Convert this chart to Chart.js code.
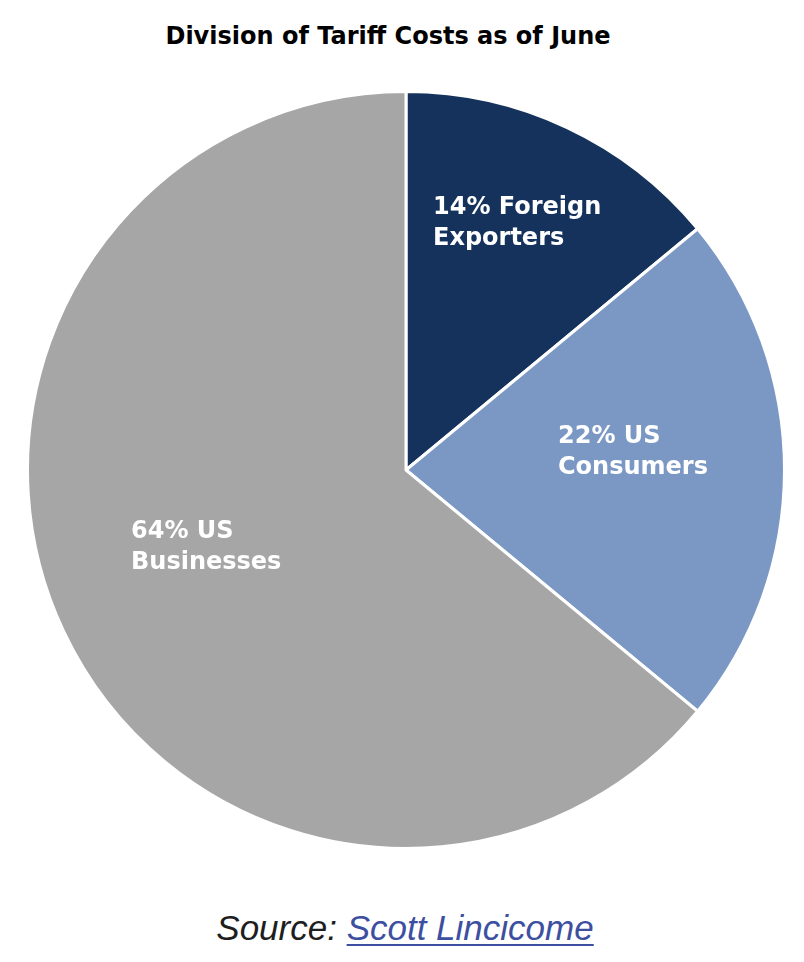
<!DOCTYPE html>
<html>
<head>
<meta charset="utf-8">
<script src="https://cdn.jsdelivr.net/npm/chart.js@4/dist/chart.umd.min.js"></script>
<style>
  html, body { margin: 0; padding: 0; background: #fff; }
  body { width: 804px; height: 962px; position: relative; overflow: hidden; }
  #title {
    position: absolute; left: 0; top: 22px; width: 776px; text-align: center;
    font-family: "DejaVu Sans", sans-serif; font-weight: bold; font-size: 24px; color: #000;
  }
  #wrap { position: absolute; left: 26px; top: 90px; width: 760px; height: 760px; }
  #source {
    position: absolute; left: 0; top: 908px; width: 810px; text-align: center;
    font-family: "Liberation Sans", Arial, sans-serif; font-style: italic; font-size: 35px; color: #1e1e1e;
  }
  #source a { color: #3d4fa0; text-decoration: underline; text-decoration-thickness: 2px; text-underline-offset: 4px; }
</style>
</head>
<body>
<div id="title">Division of Tariff Costs as of June</div>
<div id="wrap"><canvas id="pie"></canvas></div>
<div id="source">Source: <a>Scott Lincicome</a></div>
<script>
const categories = ["Foreign Exporters", "US Consumers", "US Businesses"];
const shares = [14, 22, 64];
const labelLines = [
  ["14% Foreign", "Exporters"],
  ["22% US", "Consumers"],
  ["64% US", "Businesses"]
];
const colors = ["#14325c", "#7b98c5", "#a6a6a6"];

// where each label's left edge / first line sits, relative to the pie centre
const labelAnchor = [
  { dx: 27, dy: -256 },
  { dx: 152, dy: -27 },
  { dx: -275, dy: 68 }
];

const sliceLabels = {
  id: "sliceLabels",
  afterDatasetsDraw(chart) {
    const ctx = chart.ctx;
    const arcs = chart.getDatasetMeta(0).data;
    ctx.save();
    ctx.fillStyle = "#fff";
    ctx.font = "bold 24px 'DejaVu Sans', sans-serif";
    ctx.textAlign = "left";
    ctx.textBaseline = "alphabetic";
    arcs.forEach((arc, i) => {
      const a = labelAnchor[i];
      labelLines[i].forEach((line, j) => {
        ctx.fillText(line, arc.x + a.dx, arc.y + a.dy + j * 31);
      });
    });
    ctx.restore();
  }
};

new Chart(document.getElementById("pie"), {
  type: "pie",
  data: {
    labels: categories,
    datasets: [{
      data: shares,
      backgroundColor: colors,
      borderColor: "#ffffff",
      borderWidth: 3
    }]
  },
  options: {
    responsive: true,
    maintainAspectRatio: false,
    animation: false,
    layout: { padding: 0 },
    plugins: {
      legend: { display: false },
      tooltip: { enabled: false }
    }
  },
  plugins: [sliceLabels]
});
</script>
</body>
</html>
